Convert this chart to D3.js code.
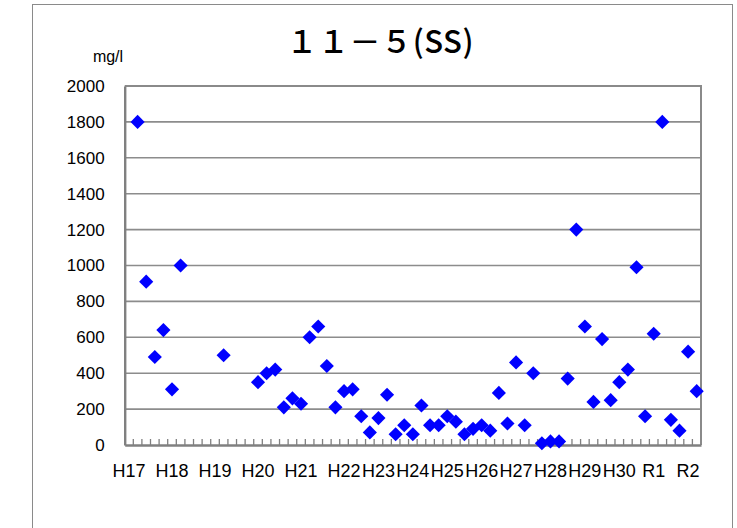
<!DOCTYPE html>
<html><head><meta charset="utf-8">
<script src="https://cdn.jsdelivr.net/npm/d3@7"></script>
<style>body{margin:0;background:#fff} svg{display:block}</style>
</head><body><svg id="c" width="737" height="528"></svg>
<script>
const chartTitle = "１１－５(SS)";
const unitLabel = "mg/l";
const yTickValues = [0, 200, 400, 600, 800, 1000, 1200, 1400, 1600, 1800, 2000];
const categoryLabels = [
  "H17","","","","","H18","","","","","H19","","","","","H20","","","","","H21",
  "","","","","H22","","","","H23","","","","H24","","","","H25","","","","H26",
  "","","","H27","","","","H28","","","","H29","","","","H30","","","","R1","","","","R2",""
];
const ssValues = [
  null,1800,910,490,640,310,1000,null,null,null,null,500,null,null,null,
  350,400,420,210,260,230,600,660,440,210,300,310,160,70,150,280,60,110,60,220,
  110,110,160,130,60,90,110,80,290,120,460,110,400,10,20,20,370,1200,660,240,590,
  250,350,420,990,160,620,1800,140,80,520,300
];

const svg = d3.select("#c");
const plot = {left: 124.7, right: 701, top: 86, bottom: 445};

// outer chart border
svg.append("rect").attr("x", 32.5).attr("y", 4.5).attr("width", 700).attr("height", 540)
  .attr("fill", "#fff").attr("stroke", "#8a8a8a").attr("stroke-width", 1);

const x = d3.scaleBand().domain(d3.range(categoryLabels.length)).range([plot.left, plot.right]).padding(0);
const y = d3.scaleLinear().domain([0, 2000]).range([plot.bottom, plot.top]);

// gridlines
svg.append("g").selectAll("line").data(yTickValues.filter(v => v > 0 && v < 2000)).join("line")
  .attr("x1", plot.left).attr("x2", plot.right)
  .attr("y1", d => y(d)).attr("y2", d => y(d))
  .attr("stroke", "#8c8c8c").attr("stroke-width", 1.6);

// plot border (top and right)
svg.append("path")
  .attr("d", `M${plot.left},${y(2000)}H${plot.right}V${plot.bottom}`)
  .attr("fill", "none").attr("stroke", "#8a8a8a").attr("stroke-width", 2);

// y axis
const yAxis = svg.append("g").attr("transform", `translate(${plot.left},0)`)
  .call(d3.axisLeft(y).tickValues(yTickValues).tickSize(0).tickPadding(20).tickFormat(d3.format("d")));
yAxis.select(".domain").attr("stroke", "#808080").attr("stroke-width", 2.4);
yAxis.selectAll("text").attr("font-family", "Liberation Sans, Arial, sans-serif").attr("font-size", 17).attr("fill", "#000");

// x axis
const xAxis = svg.append("g").attr("transform", `translate(0,${plot.bottom})`)
  .call(d3.axisBottom(x).tickSize(0).tickPadding(19).tickFormat(i => categoryLabels[i]));
xAxis.select(".domain").attr("stroke", "#808080").attr("stroke-width", 2.4);
xAxis.selectAll("text").attr("font-family", "Liberation Sans, Arial, sans-serif").attr("font-size", 18).attr("fill", "#000");

// inner tick marks at category boundaries
svg.append("g").selectAll("line").data(d3.range(1, categoryLabels.length)).join("line")
  .attr("x1", i => x(i)).attr("x2", i => x(i))
  .attr("y1", plot.bottom).attr("y2", plot.bottom - 6)
  .attr("stroke", "#808080").attr("stroke-width", 1.3);

// markers
const pts = ssValues.map((v, i) => ({i, v})).filter(d => d.v !== null);
const diamond = d3.symbol().type(d3.symbolSquare).size(100);
svg.append("g").selectAll("path").data(pts).join("path")
  .attr("d", diamond)
  .attr("transform", d => `translate(${x(d.i) + x.bandwidth() / 2},${y(d.v)}) rotate(45)`)
  .attr("fill", "#0000ff");

// title
svg.append("text").attr("x", 380).attr("y", 53).attr("text-anchor", "middle")
  .attr("font-family", "Noto Sans CJK JP, sans-serif").attr("font-size", 31).attr("font-weight", 500)
  .attr("textLength", 187).attr("lengthAdjust", "spacing")
  .attr("fill", "#000").text(chartTitle);

// unit
svg.append("text").attr("x", 108).attr("y", 62).attr("text-anchor", "middle")
  .attr("font-family", "Liberation Sans, Arial, sans-serif").attr("font-size", 16)
  .attr("fill", "#000").text(unitLabel);
</script></body></html>
